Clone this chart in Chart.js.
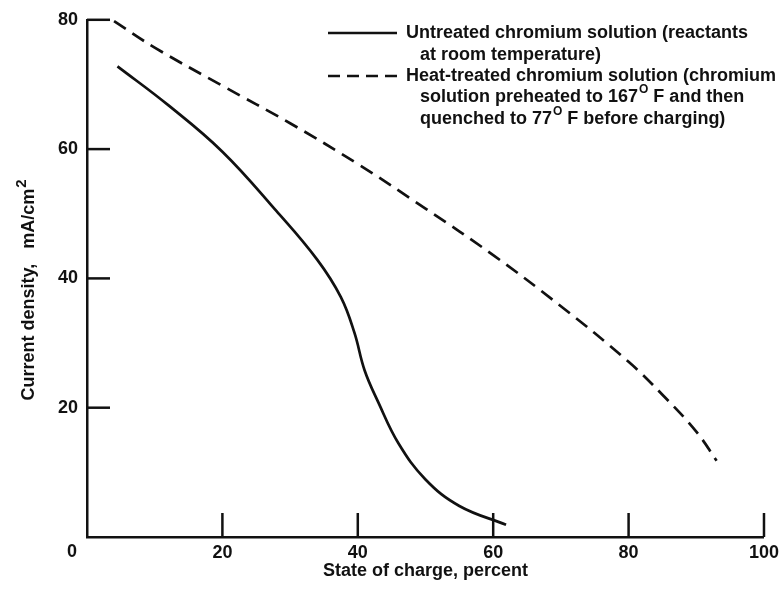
<!DOCTYPE html>
<html>
<head>
<meta charset="utf-8">
<script src="https://cdn.jsdelivr.net/npm/chart.js@4.4.1/dist/chart.umd.min.js"></script>
<style>
  html, body { margin: 0; padding: 0; background: #fff; }
  #wrap { width: 784px; height: 598px; }
</style>
</head>
<body>
<div id="wrap"><canvas id="chart" width="784" height="598"></canvas></div>
<script>
// Valores (estado de carga en %, densidad de corriente en mA/cm2)
const untreatedX = [4.5, 12, 20, 28, 34, 37.5, 39.5, 41, 43, 46, 50, 55, 61.9];
const untreatedY = [72.8, 66.8, 59.6, 50.4, 42.9, 37.1, 31.6, 25.8, 20.9, 14.5, 8.9, 4.8, 1.9];

const heatX = [4, 10, 20, 30, 40, 50, 60, 70, 80, 85, 90, 93];
const heatY = [79.8, 75.7, 69.8, 64.0, 57.7, 50.8, 43.6, 35.7, 27.1, 22.0, 16.3, 11.8];

const xTicks = [0, 20, 40, 60, 80, 100];
const yTicks = [20, 40, 60, 80];

const FONT = "'Liberation Sans', Arial, sans-serif";
const WEIGHT = 'bold';
const INK = '#111';

function toPoints(xs, ys) {
    return xs.map((x, i) => ({ x: x, y: ys[i] }));
}

// Marcas de los ejes hacia adentro, el "0" de la esquina, el titulo vertical y la leyenda
const extrasPlugin = {
    id: 'extras',
    afterDraw(chart) {
        const ctx = chart.ctx;
        const xs = chart.scales.x;
        const ys = chart.scales.y;
        const area = chart.chartArea;
        ctx.save();
        ctx.strokeStyle = INK;
        ctx.lineWidth = 2.5;
        yTicks.forEach(v => {
            const py = ys.getPixelForValue(v);
            ctx.beginPath();
            ctx.moveTo(area.left, py);
            ctx.lineTo(area.left + 23, py);
            ctx.stroke();
        });
        xTicks.slice(1).forEach(v => {
            const px = xs.getPixelForValue(v);
            ctx.beginPath();
            ctx.moveTo(px, area.bottom);
            ctx.lineTo(px, area.bottom - 24);
            ctx.stroke();
        });

        const big = WEIGHT + ' 18px ' + FONT;
        const small = WEIGHT + ' 12px ' + FONT;
        ctx.fillStyle = INK;
        ctx.font = big;
        ctx.textAlign = 'center';
        ctx.textBaseline = 'middle';
        ctx.fillText('0', xs.getPixelForValue(0) - 15, 552);

        function withSup(before, sup, after, x, y, supFont) {
            ctx.font = big;
            ctx.fillText(before, x, y);
            let cx = x + ctx.measureText(before).width + 1;
            ctx.font = supFont;
            ctx.fillText(sup, cx, y - 7);
            cx += ctx.measureText(sup).width;
            ctx.font = big;
            ctx.fillText(after, cx, y);
        }

        // titulo del eje y, con el 2 en superindice
        ctx.save();
        ctx.translate(29, 290);
        ctx.rotate(-Math.PI / 2);
        ctx.textAlign = 'left';
        const yTitle = 'Current density,   mA/cm';
        ctx.font = WEIGHT + ' 15px ' + FONT;
        const supW = ctx.measureText('2').width;
        ctx.font = big;
        const w = ctx.measureText(yTitle).width + supW + 1;
        withSup(yTitle, '2', '', -w / 2, 0, WEIGHT + ' 15px ' + FONT);
        ctx.restore();

        // leyenda
        ctx.lineWidth = 2.7;
        ctx.beginPath();
        ctx.moveTo(328, 33);
        ctx.lineTo(397, 33);
        ctx.stroke();
        ctx.setLineDash([12, 7]);
        ctx.beginPath();
        ctx.moveTo(328, 76);
        ctx.lineTo(397, 76);
        ctx.stroke();
        ctx.setLineDash([]);

        ctx.textAlign = 'left';
        ctx.font = big;
        ctx.fillText('Untreated chromium solution (reactants', 406, 33);
        ctx.fillText('at room temperature)', 420, 55);
        ctx.fillText('Heat-treated chromium solution (chromium', 406, 76);
        withSup('solution preheated to 167', 'O', ' F and then', 420, 97, small);
        withSup('quenched to 77', 'O', ' F before charging)', 420, 119, small);
        ctx.restore();
    }
};

const ctx = document.getElementById('chart').getContext('2d');
new Chart(ctx, {
    type: 'line',
    data: {
        datasets: [{
            label: 'Untreated chromium solution (reactants at room temperature)',
            data: toPoints(untreatedX, untreatedY),
            borderColor: INK,
            borderWidth: 2.7,
            pointRadius: 0,
            tension: 0.4,
            fill: false
        }, {
            label: 'Heat-treated chromium solution',
            data: toPoints(heatX, heatY),
            borderColor: INK,
            borderWidth: 2.7,
            borderDash: [14, 8],
            pointRadius: 0,
            tension: 0.4,
            fill: false
        }]
    },
    options: {
        responsive: false,
        animation: false,
        layout: { padding: { left: 0, right: 17, top: 19, bottom: 0 } },
        plugins: { legend: { display: false }, tooltip: { enabled: false } },
        scales: {
            x: {
                type: 'linear',
                min: 0,
                max: 100,
                afterBuildTicks: s => { s.ticks = xTicks.map(v => ({ value: v })); },
                afterFit: s => { s.height = 61; },
                grid: { display: false, drawTicks: false },
                border: { color: INK, width: 2.5 },
                ticks: {
                    color: INK,
                    padding: 5,
                    maxRotation: 0,
                    font: { family: FONT, size: 18, weight: WEIGHT },
                    callback: v => v === 0 ? '' : v
                },
                title: {
                    display: true,
                    text: 'State of charge, percent',
                    color: INK,
                    padding: { top: 0, bottom: 16 },
                    font: { family: FONT, size: 18, weight: WEIGHT }
                }
            },
            y: {
                type: 'linear',
                min: 0,
                max: 80,
                afterBuildTicks: s => { s.ticks = yTicks.map(v => ({ value: v })); },
                afterFit: s => { s.width = 87; },
                grid: { display: false, drawTicks: false },
                border: { color: INK, width: 2.5 },
                ticks: {
                    color: INK,
                    padding: 9,
                    font: { family: FONT, size: 18, weight: WEIGHT }
                },
                title: { display: false }
            }
        }
    },
    plugins: [extrasPlugin]
});
</script>
</body>
</html>
